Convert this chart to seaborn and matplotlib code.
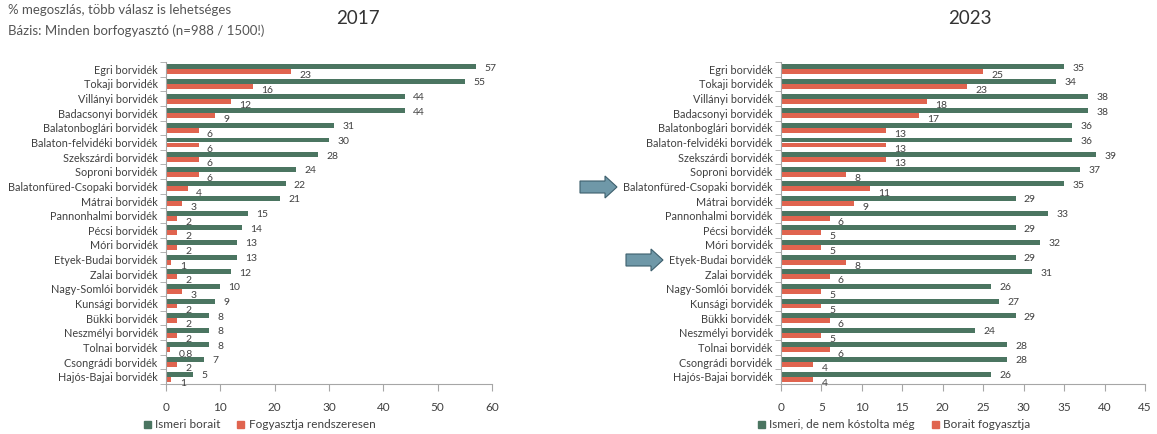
import matplotlib
matplotlib.use("Agg")
import matplotlib.pyplot as plt
from matplotlib.patches import FancyArrow, Patch
import seaborn as sns
import pandas as pd

regions = ["Egri borvidék", "Tokaji borvidék", "Villányi borvidék", "Badacsonyi borvidék",
           "Balatonboglári borvidék", "Balaton-felvidéki borvidék", "Szekszárdi borvidék",
           "Soproni borvidék", "Balatonfüred-Csopaki borvidék", "Mátrai borvidék",
           "Pannonhalmi borvidék", "Pécsi borvidék", "Móri borvidék", "Etyek-Budai borvidék",
           "Zalai borvidék", "Nagy-Somlói borvidék", "Kunsági borvidék", "Bükki borvidék",
           "Neszmélyi borvidék", "Tolnai borvidék", "Csongrádi borvidék", "Hajós-Bajai borvidék"]

known_2017 = [57, 55, 44, 44, 31, 30, 28, 24, 22, 21, 15, 14, 13, 13, 12, 10, 9, 8, 8, 8, 7, 5]
drink_2017 = [23, 16, 12, 9, 6, 6, 6, 6, 4, 3, 2, 2, 2, 1, 2, 3, 2, 2, 2, 0.8, 2, 1]
known_2023 = [35, 34, 38, 38, 36, 36, 39, 37, 35, 29, 33, 29, 32, 29, 31, 26, 27, 29, 24, 28, 28, 26]
drink_2023 = [25, 23, 18, 17, 13, 13, 13, 8, 11, 9, 6, 5, 5, 8, 6, 5, 5, 6, 5, 6, 4, 4]

series_2017 = ["Ismeri borait", "Fogyasztja rendszeresen"]
series_2023 = ["Ismeri, de nem kóstolta még", "Borait fogyasztja"]

GREEN = "#4b7561"
RED = "#e0644f"
TXT = "#404040"

plt.rcParams['font.family'] = ['Lato', 'DejaVu Sans']

fig = plt.figure(figsize=(11.57, 4.34), dpi=100)
ax1 = fig.add_axes([166/1157, 1-384/434, 326/1157, 322/434])
ax2 = fig.add_axes([781/1157, 1-384/434, 364/1157, 322/434])


def fmt(v):
    return f"{v:g}".replace(".", ",")


def draw(ax, known, drink, names, xmax, step):
    df = pd.DataFrame({
        "region": regions * 2,
        "value": known + drink,
        "series": [names[0]] * len(regions) + [names[1]] * len(regions),
    })
    sns.barplot(data=df, x="value", y="region", hue="series", hue_order=names,
                palette=[GREEN, RED], orient="h", width=0.68, order=regions,
                saturation=1, ax=ax, legend=False)
    for i, cont in enumerate(ax.containers):
        for bar in cont:
            w = bar.get_width()
            y = bar.get_y() + bar.get_height() / 2
            ax.annotate(fmt(w), (w, y), xytext=(6, -1 - 2 * i), textcoords="offset points",
                        ha="left", va="center", fontsize=7.5, color=TXT)
    ax.set_xlim(0, xmax)
    ax.set_ylim(len(regions) - 0.5, -0.5)
    ax.set_xticks(range(0, xmax + 1, step))
    ax.set_xlabel("")
    ax.set_ylabel("")
    for s in ["top", "right"]:
        ax.spines[s].set_visible(False)
    for s in ["left", "bottom"]:
        ax.spines[s].set_color("#a6a6a6")
    ax.tick_params(axis="x", length=5, color="#a6a6a6", labelsize=8.5, labelcolor=TXT, pad=8)
    ax.tick_params(axis="y", length=0, labelsize=7.8, labelcolor=TXT, pad=6)
    ax.set_yticks([i + 0.5 for i in range(-1, len(regions))], minor=True)
    ax.tick_params(axis="y", which="minor", length=4, color="#a6a6a6")


draw(ax1, known_2017, drink_2017, series_2017, 60, 10)
draw(ax2, known_2023, drink_2023, series_2023, 45, 5)

fig.text(8/1157, 1-10/434, "% megoszlás, több válasz is lehetséges", fontsize=9.5, color="#555555", va="center")
fig.text(8/1157, 1-31/434, "Bázis: Minden borfogyasztó (n=988 / 1500!)", fontsize=9.5, color="#555555", va="center")
fig.text(358/1157, 1-18/434, "2017", fontsize=13.5, color="#333333", ha="center", va="center")
fig.text(970/1157, 1-18/434, "2023", fontsize=13.5, color="#333333", ha="center", va="center")

leg_kw = dict(ncol=2, frameon=False, fontsize=8.5, handlelength=0.6, handleheight=0.6,
              handletextpad=0.4, columnspacing=1.4, labelcolor=TXT, loc="center left")
fig.legend(handles=[Patch(color=GREEN, label=series_2017[0]), Patch(color=RED, label=series_2017[1])],
           bbox_to_anchor=(133/1157, 1-425/434), **leg_kw)
fig.legend(handles=[Patch(color=GREEN, label=series_2023[0]), Patch(color=RED, label=series_2023[1])],
           bbox_to_anchor=(747/1157, 1-425/434), **leg_kw)

# arrows pointing at highlighted regions
for x0, yc in [(580, 187), (626, 260)]:
    fig.add_artist(FancyArrow(x0 / 100, (434 - yc) / 100, 0.25, 0, width=0.12,
                              head_width=0.22, head_length=0.12, length_includes_head=False,
                              transform=fig.dpi_scale_trans, facecolor="#6f98a8",
                              edgecolor="#3d5f6d", linewidth=0.8))

fig.savefig("out.png", dpi=100)
